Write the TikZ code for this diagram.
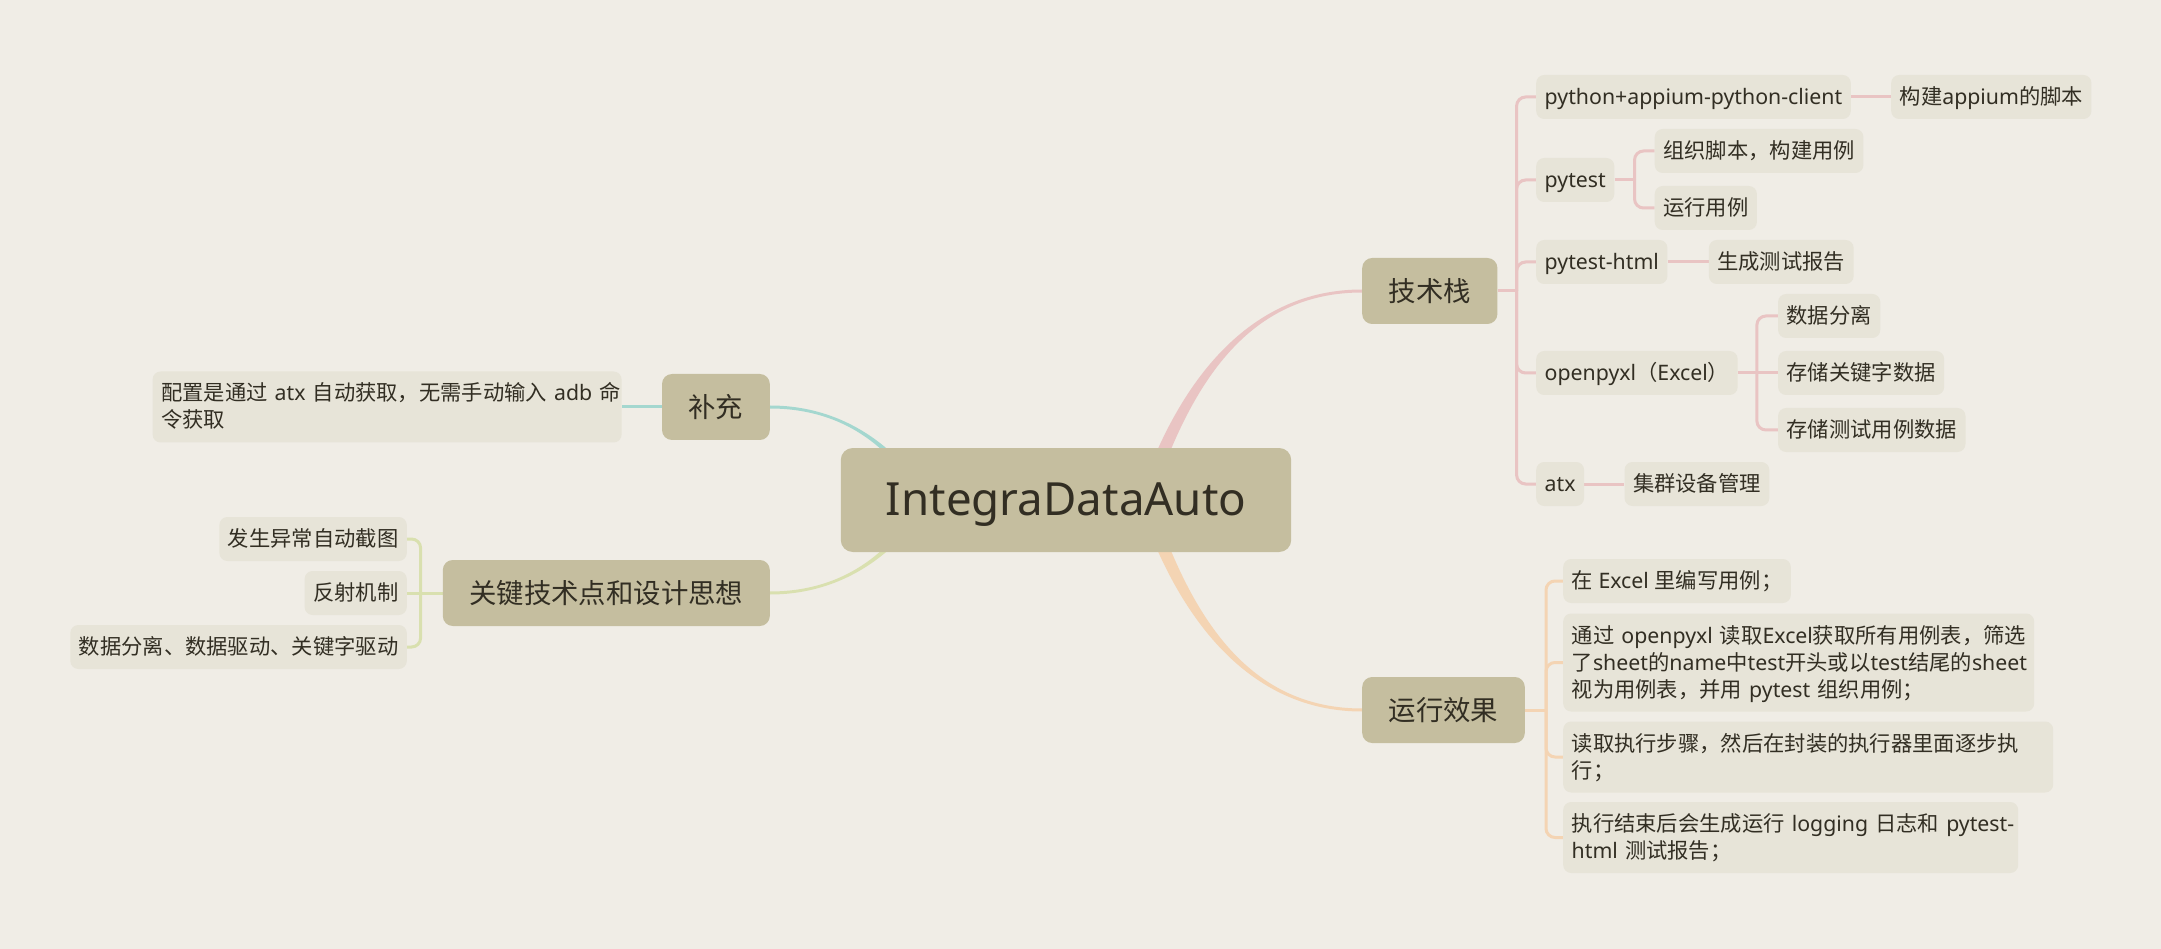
\documentclass[tikz,border=0pt]{standalone}
\usepackage{fontspec}
\setmainfont{Noto Sans}
\newfontfamily\latinfont{Noto Sans}
\newfontfamily\cjkfont{Noto Sans CJK SC}
% Han characters and full-width punctuation switch to the CJK face
\XeTeXinterchartokenstate=1
\chardef\cjkclass=10
\makeatletter
\newcommand\cjkrange[2]{\count@=#1\relax
  \loop\XeTeXcharclass\count@=\cjkclass\relax
  \ifnum\count@<#2\relax\advance\count@\@ne\repeat}
\makeatother
\cjkrange{"3000}{"303F}
\cjkrange{"4E00}{"9FFF}
\cjkrange{"FF00}{"FFEF}
\XeTeXinterchartoks 0 \cjkclass = {\cjkfont}
\XeTeXinterchartoks 4095 \cjkclass = {\cjkfont}
\XeTeXinterchartoks \cjkclass 0 = {\latinfont}
\XeTeXinterchartoks \cjkclass 4095 = {\latinfont}
\hyphenpenalty=10000
\exhyphenpenalty=10000
\usetikzlibrary{positioning,calc}
\pgfdeclarelayer{back}
\pgfdeclarelayer{wires}
\pgfsetlayers{back,wires,main}
\definecolor{paper}{HTML}{F0EDE6}
\definecolor{topicbg}{HTML}{C5BE9F}
\definecolor{leafbg}{HTML}{E7E4D8}
\definecolor{ink}{HTML}{322E23}
\definecolor{techpink}{HTML}{E9C4C3}
\definecolor{runorange}{HTML}{F4D4B3}
\definecolor{suppteal}{HTML}{A4D7CF}
\definecolor{keygreen}{HTML}{D9E0AF}
\newcommand\rootsize{\fontsize{45.7}{55}\selectfont}
\newcommand\mainsize{\fontsize{27.4}{33}\selectfont}
\newcommand\leafsize{\fontsize{21.3}{27}\selectfont}
% tapered branch: colour, start, control 1, control 2, end, half width at start, half width at end
\newcommand{\branchfill}[7]{%
  \fill[#1] ($#2-(#6,0)$) .. controls ($#3-(#6,0)$) and ($#4+(0,#7)$) .. ($#5+(0,#7)$)
    -- ($#5-(0,#7)$) .. controls ($#4-(0,#7)$) and ($#3+(#6,0)$) .. ($#2+(#6,0)$) -- cycle;}

\begin{document}
\begin{tikzpicture}[x=1pt,y=-1pt,
  root node/.style={rectangle,rounded corners=12pt,fill=topicbg,text=ink,font=\rootsize,inner xsep=45pt,inner ysep=24.5pt,execute at begin node={\vrule height 42.5pt depth 12.5pt width 0pt}},
  main node/.style={rectangle,rounded corners=10pt,fill=topicbg,text=ink,font=\mainsize,inner xsep=26.5pt,inner ysep=16.5pt,execute at begin node={\vrule height 26.9pt depth 6.1pt width 0pt}},
  leaf node/.style={rectangle,rounded corners=8pt,fill=leafbg,text=ink,font=\leafsize,inner xsep=8.5pt,inner ysep=8.5pt,execute at begin node={\noindent\vrule height 21pt depth 6pt width 0pt},execute at end node={\vrule height 0pt depth 6pt width 0pt}},
  leaf par/.style={leaf node,align=left},
  tech line/.style={draw=techpink,line width=3pt},
  run line/.style={draw=runorange,line width=3pt},
  supp line/.style={draw=suppteal,line width=3pt},
  key line/.style={draw=keygreen,line width=3pt}]
  \useasboundingbox (0,0) rectangle (2161,949);
  \begin{pgfonlayer}{back}
    \fill[paper] (0,0) rectangle (2161,949);
  \end{pgfonlayer}

  \node[root node] (root) at (1066,500) {IntegraDataAuto};
  \node[main node,anchor=west] (tech) at (1362,291) {技术栈};
  \node[main node,anchor=west] (run) at (1362,710) {运行效果};
  \node[main node,anchor=east] (supp) at (770,407) {补充};
  \node[main node,anchor=east] (key) at (770,593) {关键技术点和设计思想};

  % 技术栈
  \node[leaf node,anchor=west] (py) at (1536,97) {python+appium-python-client};
  \node[leaf node,anchor=west] (pytest) at (1536,180) {pytest};
  \node[leaf node,anchor=west] (html) at (1536,262) {pytest-html};
  \node[leaf node,anchor=west] (xl) at (1536,373) {openpyxl（Excel）};
  \node[leaf node,anchor=west] (atx) at (1536,484) {atx};
  \node[leaf node,right=40pt of py] (py1) {构建appium的脚本};
  \node[leaf node,right=40pt of pytest,yshift=29pt] (pytest1) {组织脚本，构建用例};
  \node[leaf node,right=40pt of pytest,yshift=-28pt] (pytest2) {运行用例};
  \node[leaf node,right=41pt of html] (html1) {生成测试报告};
  \node[leaf node,right=40pt of xl,yshift=57pt] (xl1) {数据分离};
  \node[leaf node,right=40pt of xl] (xl2) {存储关键字数据};
  \node[leaf node,right=40pt of xl,yshift=-57pt] (xl3) {存储测试用例数据};
  \node[leaf node,right=40pt of atx] (atx1) {集群设备管理};

  % 运行效果
  \node[leaf node,anchor=west] (run1) at (1563,581) {在~Excel~里编写用例；};
  \node[leaf par,text width=454pt,anchor=west] (run2) at (1563,662.5) {通过~openpyxl~读取Excel获取所有用例表，筛选\\了sheet的name中test开头或以test结尾的sheet\\视为用例表，并用~pytest~组织用例；};
  \node[leaf par,text width=473pt,anchor=west] (run3) at (1563,757) {读取执行步骤，然后在封装的执行器里面逐步执\\行；};
  \node[leaf par,text width=438pt,anchor=west] (run4) at (1563,837.5) {执行结束后会生成运行~logging~日志和~pytest-\\html~测试报告；};

  % 补充 and 关键技术点和设计思想
  \node[leaf par,text width=452pt,left=40pt of supp] (supp1) {配置是通过~atx~自动获取，无需手动输入~adb~命\\令获取};
  \node[leaf node,anchor=east] (key1) at (407,539) {发生异常自动截图};
  \node[leaf node,anchor=east] (key2) at (407,593) {反射机制};
  \node[leaf node,anchor=east] (key3) at (407,647) {数据分离、数据驱动、关键字驱动};

  \begin{pgfonlayer}{wires}
    \branchfill{techpink}{(root.center)+(79,0)}{(root.center)+(119,-120)}{(tech.west)+(-112,0)}{(tech.west)}{7}{-1.5}
    \branchfill{runorange}{(root.center)+(79,0)}{(root.center)+(119,120)}{(run.west)+(-112,0)}{(run.west)}{7}{1.5}
    \branchfill{suppteal}{(root.center)+(-141,0)}{(root.center)+(-166,-45)}{(supp.east)+(80,0)}{(supp.east)}{4}{1.5}
    \branchfill{keygreen}{(root.center)+(-141,0)}{(root.center)+(-166,45)}{(key.east)+(80,0)}{(key.east)}{4}{-1.5}

    \coordinate (techj) at ($(tech.east)+(19,0)$);
    \draw[tech line] (tech.east) -- (techj);
    \foreach \n in {py,pytest,html,xl,atx}
      \draw[tech line,rounded corners=9pt] (techj) |- (\n.west);
    \path[tech line] (py) edge (py1) (html) edge (html1) (atx) edge (atx1) (xl) edge (xl2);
    \coordinate (pytestj) at ($(pytest.east)+(20,0)$);
    \draw[tech line] (pytest.east) -- (pytestj);
    \foreach \n in {pytest1,pytest2}
      \draw[tech line,rounded corners=9pt] (pytestj) |- (\n.west);
    \coordinate (xlj) at ($(xl.east)+(19,0)$);
    \foreach \n in {xl1,xl3}
      \draw[tech line,rounded corners=9pt] (xlj) |- (\n.west);

    \coordinate (runj) at ($(run.east)+(21,0)$);
    \draw[run line] (run.east) -- (runj);
    \foreach \n in {run1,run2,run3,run4}
      \draw[run line,rounded corners=9pt] (runj) |- (\n.west);

    \path[supp line] (supp) edge (supp1);
    \coordinate (keyj) at ($(key.west)+(-22,0)$);
    \path[key line] (key) edge (key2);
    \foreach \n in {key1,key3}
      \draw[key line,rounded corners=9pt] (keyj) |- (\n.east);
  \end{pgfonlayer}
\end{tikzpicture}
\end{document}
